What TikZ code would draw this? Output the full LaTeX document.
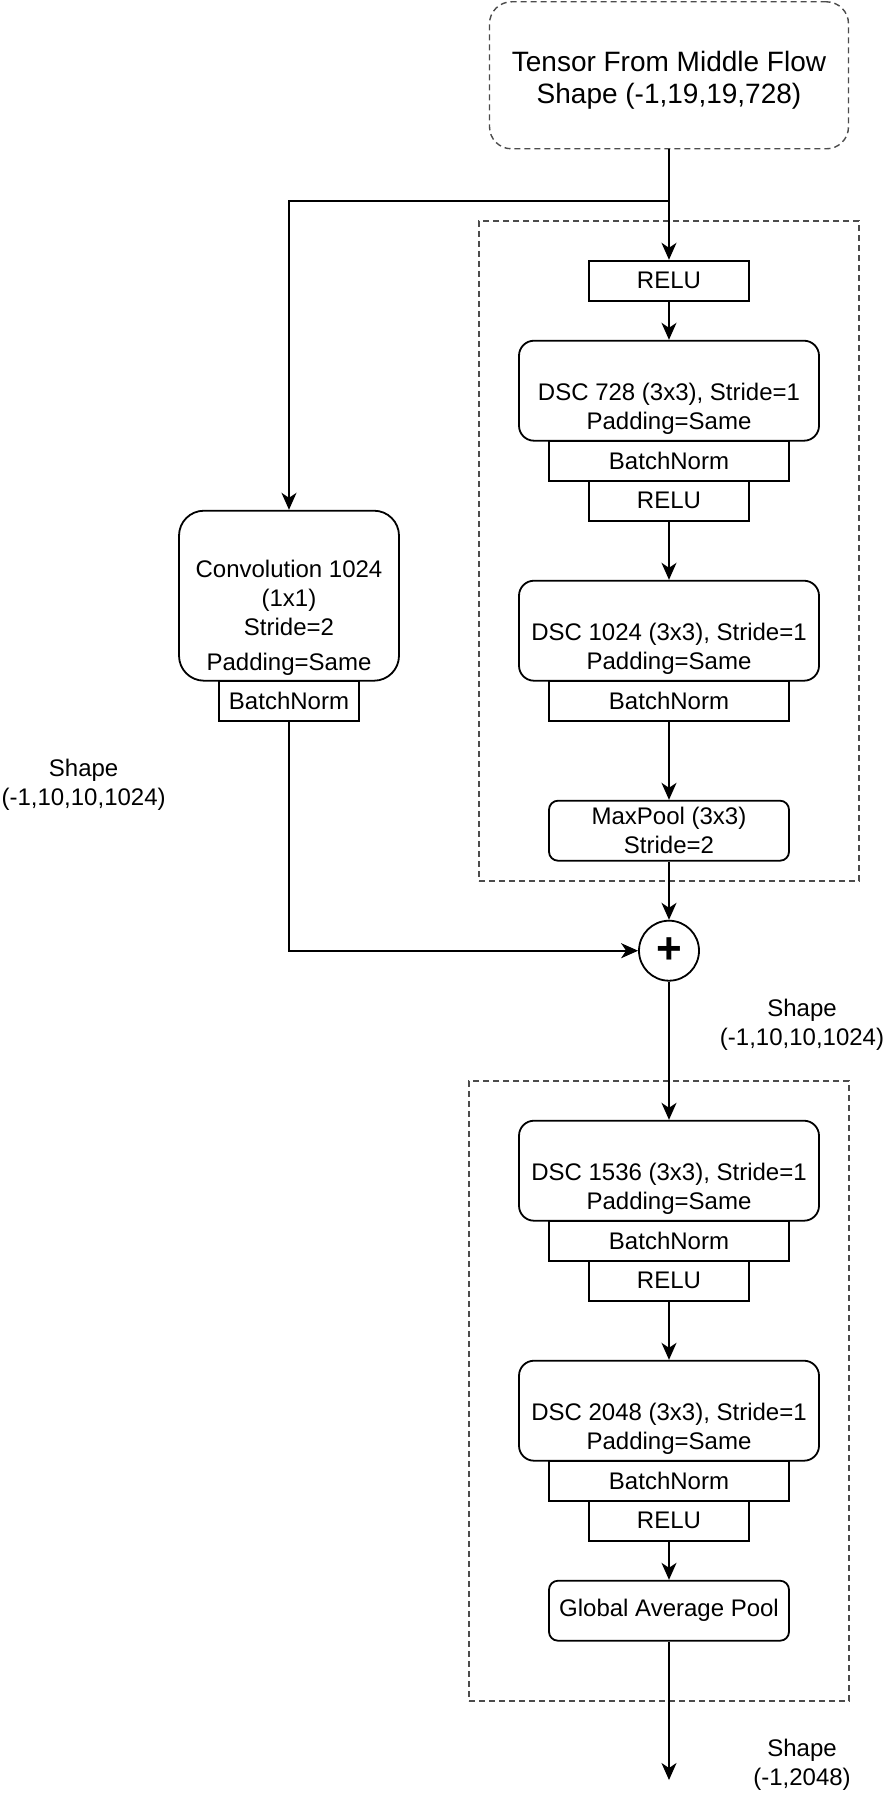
\documentclass[tikz,border=0pt]{standalone}
\usepackage{fontspec}
\setmainfont{Liberation Sans}
\usetikzlibrary{arrows.meta}
\newcommand\fsA{\fontsize{24}{28.8}\selectfont}
\newcommand\fsB{\fontsize{28}{32}\selectfont}
\begin{document}
\begin{tikzpicture}[x=1pt,y=-1pt,
  blk/.style={draw=black, line width=1.8pt, fill=white, inner sep=0pt, font=\fsA, align=center},
  rblk/.style={blk, rounded corners=15pt},
  txt/.style={inner sep=0pt, font=\fsA, align=center},
  grp/.style={draw=black!70, line width=1.4pt, dash pattern=on 6pt off 4pt, inner sep=0pt},
  arr/.style={line width=1.8pt, -{Stealth[length=17pt,width=15pt,inset=5pt]}},
  ln/.style={line width=1.8pt}]
\useasboundingbox (0,0) rectangle (886,1798);

% containers
\node[grp, minimum width=380pt, minimum height=660pt] (grpA) at (669,551) {};
\node[grp, minimum width=380pt, minimum height=620pt] (grpB) at (659,1391) {};

% input
\node[grp, rounded corners=22pt, minimum width=359pt, minimum height=147pt] (tensor) at (669,75.3) {};
\node[txt, font=\fsB] (tensort) at (669,80) {Tensor From Middle Flow\\Shape (-1,19,19,728)};

% main branch
\node[blk, minimum width=160pt, minimum height=40pt] (relu1) at (669,280.7) {RELU};
\node[rblk, minimum width=300pt, minimum height=100pt] (dsc1) at (669,390.7) {};
\node[txt] (dsc1t) at (669,409) {DSC 728 (3x3), Stride=1\\Padding=Same};
\node[blk, minimum width=240pt, minimum height=40pt] (bn1) at (669,460.7) {BatchNorm};
\node[blk, minimum width=160pt, minimum height=40pt] (relu2) at (669,500.7) {RELU};
\node[rblk, minimum width=300pt, minimum height=100pt] (dsc2) at (669,630.7) {};
\node[txt] (dsc2t) at (669,649) {DSC 1024 (3x3), Stride=1\\Padding=Same};
\node[blk, minimum width=240pt, minimum height=40pt] (bn2) at (669,700.7) {BatchNorm};
\node[blk, rounded corners=9pt, minimum width=240pt, minimum height=60pt] (maxpool) at (669,830.7) {MaxPool (3x3)\\Stride=2};

% shortcut branch
\node[blk, rounded corners=25pt, minimum width=220pt, minimum height=170pt] (conv) at (289,595.7) {};
\node[txt] (convt) at (289,618) {Convolution 1024\\(1x1)\\Stride=2\\[7pt]Padding=Same};
\node[blk, minimum width=140pt, minimum height=40pt] (convbn) at (289,700.7) {BatchNorm};

% sum
\node[circle, draw=black, line width=1.8pt, fill=white, minimum size=60pt, inner sep=0pt, font=\fontsize{44}{44}\selectfont\bfseries] (plus) at (669,950.7) {+};

% exit flow second block
\node[rblk, minimum width=300pt, minimum height=100pt] (dsc3) at (669,1170.7) {};
\node[txt] (dsc3t) at (669,1189) {DSC 1536 (3x3), Stride=1\\Padding=Same};
\node[blk, minimum width=240pt, minimum height=40pt] (bn3) at (669,1240.7) {BatchNorm};
\node[blk, minimum width=160pt, minimum height=40pt] (relu3) at (669,1280.7) {RELU};
\node[rblk, minimum width=300pt, minimum height=100pt] (dsc4) at (669,1410.7) {};
\node[txt] (dsc4t) at (669,1429) {DSC 2048 (3x3), Stride=1\\Padding=Same};
\node[blk, minimum width=240pt, minimum height=40pt] (bn4) at (669,1480.7) {BatchNorm};
\node[blk, minimum width=160pt, minimum height=40pt] (relu4) at (669,1520.7) {RELU};
\node[blk, rounded corners=9pt, minimum width=240pt, minimum height=60pt] (gap) at (669,1610.7) {Global Average Pool};

% labels
\node[txt] (shapeL) at (83.6,785) {Shape\\(-1,10,10,1024)};
\node[txt] (shapeR) at (802,1025) {Shape\\(-1,10,10,1024)};
\node[txt] (shapeB) at (802,1764.5) {Shape\\(-1,2048)};

% connectors
\coordinate (br) at (669,200.7);
\coordinate (out) at (669,1780);
\draw[ln] (tensor.south) -- (br);
\draw[arr] (br) -- (relu1.north);
\draw[arr] (br) -| (conv.north);
\draw[arr] (relu1.south) -- (dsc1.north);
\draw[arr] (relu2.south) -- (dsc2.north);
\draw[arr] (bn2.south) -- (maxpool.north);
\draw[arr] (maxpool.south) -- (plus.north);
\draw[arr] (convbn.south) |- (plus.west);
\draw[arr] (plus.south) -- (dsc3.north);
\draw[arr] (relu3.south) -- (dsc4.north);
\draw[arr] (relu4.south) -- (gap.north);
\draw[arr] (gap.south) -- (out);
\end{tikzpicture}
\end{document}
